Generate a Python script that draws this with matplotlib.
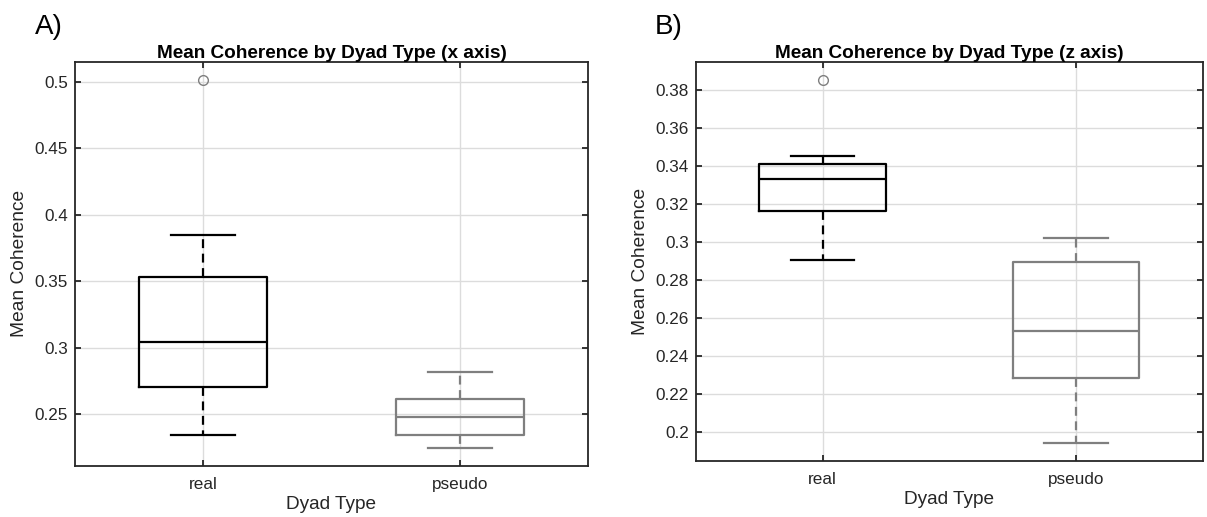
import matplotlib
matplotlib.use("Agg")
import matplotlib.pyplot as plt
import numpy as np
from matplotlib.ticker import FuncFormatter

plt.rcParams['font.family'] = ['Liberation Sans', 'DejaVu Sans']

# categories
labels = ['real', 'pseudo']

# box statistics, x axis (panel A)
x_whislo = [0.2342, 0.2249]
x_q1 = [0.2703, 0.2342]
x_med = [0.3041, 0.2480]
x_q3 = [0.3531, 0.2615]
x_whishi = [0.3846, 0.2815]
x_fliers = [[0.5010], []]

# box statistics, z axis (panel B)
z_whislo = [0.2905, 0.1944]
z_q1 = [0.3164, 0.2283]
z_med = [0.3329, 0.2532]
z_q3 = [0.3408, 0.2895]
z_whishi = [0.3453, 0.3022]
z_fliers = [[0.3851], []]

box_colors = ['black', '#7f7f7f']
text_col = '#262626'


def make_stats(whislo, q1, med, q3, whishi, fliers):
    stats = []
    for i in range(len(labels)):
        stats.append({'whislo': whislo[i], 'q1': q1[i], 'med': med[i],
                      'q3': q3[i], 'whishi': whishi[i],
                      'fliers': np.array(fliers[i]), 'label': labels[i]})
    return stats


def draw_panel(ax, stats, title, ylim, yticks):
    for i, st in enumerate(stats):
        c = box_colors[i]
        ax.bxp([st], positions=[i + 1], widths=0.5, capwidths=0.25,
               boxprops=dict(color=c, linewidth=1.6),
               medianprops=dict(color=c, linewidth=1.6),
               whiskerprops=dict(color=c, linewidth=1.6, linestyle=(0, (4, 2.5))),
               capprops=dict(color=c, linewidth=1.6),
               flierprops=dict(marker='o', markerfacecolor='none',
                               markeredgecolor='#7f7f7f', markersize=7,
                               markeredgewidth=1.0),
               manage_ticks=False)
    ax.set_xlim(0.5, 2.5)
    ax.set_ylim(*ylim)
    ax.set_xticks([1, 2])
    ax.set_xticklabels(labels)
    ax.set_yticks(yticks)
    ax.yaxis.set_major_formatter(FuncFormatter(lambda v, p: '%g' % round(v, 4)))
    ax.grid(True, color='#dcdcdc', linewidth=1.0)
    ax.set_axisbelow(True)
    ax.tick_params(direction='in', top=True, right=True, length=4,
                   width=1.3, color=text_col, labelcolor=text_col, labelsize=12.3)
    ax.tick_params(axis='y', pad=5)
    ax.tick_params(axis='x', pad=8)
    for s in ax.spines.values():
        s.set_linewidth(1.3)
        s.set_color(text_col)
    ax.set_title(title, fontsize=13.7, fontweight='bold', pad=3, color='black')
    ax.set_xlabel('Dyad Type', fontsize=13.7, color=text_col, labelpad=3)
    ax.set_ylabel('Mean Coherence', fontsize=13.8, color=text_col, labelpad=5)


fig = plt.figure(figsize=(12.07, 5.17), dpi=100)
axA = fig.add_axes([0.0621, 0.0992, 0.4250, 0.7809])
axB = fig.add_axes([0.5766, 0.1089, 0.4197, 0.7718])

draw_panel(axA, make_stats(x_whislo, x_q1, x_med, x_q3, x_whishi, x_fliers),
           'Mean Coherence by Dyad Type (x axis)', (0.2114, 0.5148),
           np.arange(0.25, 0.5001, 0.05))
draw_panel(axB, make_stats(z_whislo, z_q1, z_med, z_q3, z_whishi, z_fliers),
           'Mean Coherence by Dyad Type (z axis)', (0.1851, 0.3947),
           np.arange(0.2, 0.3801, 0.02))

fig.text(35 / 1207, 1 - 34 / 517, 'A)', fontsize=20, ha='left', va='baseline')
fig.text(655 / 1207, 1 - 34 / 517, 'B)', fontsize=20, ha='left', va='baseline')

fig.savefig('out.png', dpi=100)
